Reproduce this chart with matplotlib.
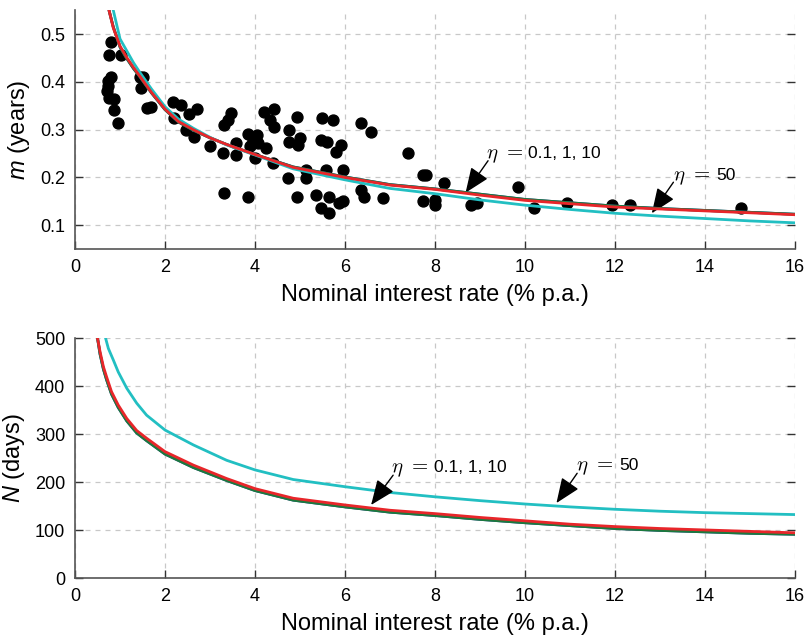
import matplotlib
matplotlib.use("Agg")
import matplotlib.pyplot as plt

plt.rcParams["font.family"] = ["Liberation Sans", "DejaVu Sans"]
plt.rcParams["mathtext.fontset"] = "custom"
plt.rcParams["mathtext.it"] = "Liberation Sans:italic"
plt.rcParams["mathtext.rm"] = "Liberation Sans"

# observed data (top panel scatter)
obs_rate = [0.80, 0.76, 1.02, 0.80, 0.74, 0.74, 0.70, 0.76, 0.87, 0.87, 0.95,
            1.44, 1.50, 1.47, 1.59, 1.69, 2.17, 2.36, 2.21, 2.54, 2.72, 2.47,
            2.65, 2.99, 3.28, 3.31, 3.31, 3.41, 3.47, 3.58, 3.58, 3.84, 3.84,
            3.89, 3.96, 4.05, 3.99, 4.06, 4.24, 4.21, 4.33, 4.43, 4.43, 4.39,
            4.73, 4.76, 4.76, 4.94, 4.94, 5.00, 4.96, 5.13, 5.13, 5.36, 5.47,
            5.65, 5.65, 5.50, 5.73, 5.47, 5.61, 5.80, 5.91, 5.58, 5.95, 5.87,
            5.95, 6.36, 6.57, 6.36, 6.42, 6.85, 7.39, 7.73, 7.81, 7.73, 8.19,
            8.00, 8.00, 8.81, 8.94, 9.85, 10.19, 10.93, 11.93, 12.33, 14.80]
obs_m = [0.483, 0.456, 0.456, 0.410, 0.402, 0.392, 0.381, 0.367, 0.365, 0.341,
         0.313, 0.410, 0.410, 0.388, 0.345, 0.347, 0.358, 0.351, 0.324, 0.333,
         0.344, 0.299, 0.285, 0.265, 0.251, 0.167, 0.310, 0.320, 0.334, 0.272,
         0.247, 0.160, 0.292, 0.265, 0.278, 0.289, 0.240, 0.272, 0.261, 0.336,
         0.320, 0.344, 0.306, 0.230, 0.199, 0.299, 0.275, 0.327, 0.160, 0.282,
         0.268, 0.216, 0.199, 0.164, 0.136, 0.126, 0.160, 0.324, 0.320, 0.278,
         0.275, 0.254, 0.268, 0.216, 0.216, 0.147, 0.150, 0.313, 0.296, 0.174,
         0.160, 0.157, 0.251, 0.206, 0.206, 0.150, 0.188, 0.153, 0.143, 0.143,
         0.147, 0.181, 0.136, 0.147, 0.143, 0.143, 0.136]

# model curves, top panel (m in years)
m_rate = [0.76, 0.85, 1.0, 1.15, 1.3, 1.44, 1.7, 2.0, 2.3, 2.63, 3.0, 3.37,
          4.0, 4.85, 6.0, 7.0, 8.0, 9.0, 10.0, 11.0, 12.0, 13.0, 14.0, 15.0, 16.0]
m_eta01 = [0.548, 0.515, 0.473, 0.449, 0.428, 0.411, 0.377, 0.342, 0.316, 0.299,
           0.283, 0.269, 0.248, 0.222, 0.201, 0.185, 0.176, 0.165, 0.154, 0.147,
           0.140, 0.135, 0.131, 0.127, 0.123]
m_eta1 = [0.548, 0.515, 0.473, 0.449, 0.428, 0.411, 0.377, 0.342, 0.316, 0.299,
          0.283, 0.269, 0.248, 0.222, 0.201, 0.185, 0.176, 0.165, 0.154, 0.147,
          0.140, 0.135, 0.131, 0.127, 0.123]
m_eta10 = [0.548, 0.513, 0.475, 0.451, 0.430, 0.412, 0.378, 0.343, 0.317, 0.300,
           0.283, 0.269, 0.248, 0.221, 0.200, 0.184, 0.175, 0.163, 0.152, 0.145,
           0.138, 0.134, 0.130, 0.126, 0.122]
m_rate50 = [0.85, 1.0, 1.15, 1.3, 1.44, 1.7, 2.0, 2.3, 2.63, 3.0, 3.37, 4.0,
            4.85, 6.0, 7.0, 8.0, 9.0, 10.0, 11.0, 12.0, 13.0, 14.0, 15.0, 16.0]
m_eta50 = [0.550, 0.490, 0.465, 0.440, 0.420, 0.385, 0.348, 0.322, 0.303, 0.284,
           0.268, 0.247, 0.218, 0.195, 0.177, 0.166, 0.153, 0.142, 0.133, 0.125,
           0.119, 0.114, 0.109, 0.105]

# model curves, bottom panel (N in days)
n_rate = [0.5, 0.556, 0.63, 0.7, 0.81, 0.96, 1.15, 1.37, 1.59, 2.0, 2.63, 3.37,
          4.0, 4.85, 6.0, 7.0, 8.0, 9.0, 10.0, 11.0, 12.0, 13.0, 14.0, 15.0, 16.0]
n_eta01 = [500, 467, 436, 414, 384, 356, 328, 303, 287, 259, 231, 204, 183,
           163, 149, 138, 131, 123, 116, 110, 104, 100, 97, 94, 92]
n_eta1 = [500, 467, 436, 414, 384, 356, 328, 303, 287, 259, 231, 204, 183,
          163, 149, 138, 131, 123, 116, 110, 104, 100, 97, 94, 92]
n_eta10 = [500, 472, 441, 420, 389, 361, 333, 308, 292, 264, 236, 208, 187,
           167, 153, 142, 135, 127, 120, 113, 108, 104, 101, 98, 95]
n_rate50 = [0.68, 0.74, 0.85, 0.96, 1.15, 1.37, 1.59, 2.0, 2.63, 3.37, 4.0,
            4.85, 6.0, 7.0, 8.0, 9.0, 10.0, 11.0, 12.0, 13.0, 14.0, 15.0, 16.0]
n_eta50 = [500, 479, 455, 430, 396, 365, 340, 309, 278, 246, 226, 206, 191,
           179, 170, 162, 155, 149, 144, 140, 137, 135, 133]

c_blue = "#2a3f9e"
c_green = "#1b7a3e"
c_red = "#e8262a"
c_cyan = "#22bfc2"


def style_axes(ax, yticks, ylim):
    ax.set_xlim(0, 16)
    ax.set_ylim(*ylim)
    ax.set_xticks(range(0, 17, 2))
    ax.set_yticks(yticks)
    ax.grid(True, linestyle=(0, (4, 4)), color="#c8c8c8", linewidth=0.9)
    ax.set_axisbelow(True)
    for s in ["top", "right"]:
        ax.spines[s].set_visible(False)
    for s in ["left", "bottom"]:
        ax.spines[s].set_color("#555555")
        ax.spines[s].set_linewidth(1.2)
    ax.tick_params(direction="in", length=6, width=1, colors="#333333",
                   labelsize=13, labelcolor="black", pad=7)
    ax.tick_params(axis="y", right=True)
    ax.set_xlabel("Nominal interest rate (% p.a.)", fontsize=17, labelpad=6)


def arrow_note(ax, values, tip, tail, at):
    ax.annotate("", xy=tip, xytext=tail,
                arrowprops=dict(arrowstyle="-|>,head_length=1.1,head_width=0.45",
                                color="black", lw=1.0, shrinkA=0, shrinkB=0,
                                mutation_scale=14))
    eta = ax.text(at[0], at[1], r"$\eta\ =$", fontsize=15,
                  math_fontfamily="cm", ha="left", va="baseline")
    ax.annotate(values, xy=(1.0, at[1]), xycoords=(eta, "data"),
                xytext=(4, 0), textcoords="offset points", fontsize=12.5,
                ha="left", va="baseline")


fig = plt.figure(figsize=(8.07, 6.42), dpi=100)
ax1 = fig.add_axes([0.093, 0.612, 0.892, 0.372])
ax2 = fig.add_axes([0.093, 0.099, 0.892, 0.374])

ax1.scatter(obs_rate, obs_m, s=62, color="black", zorder=3)
ax1.plot(m_rate, m_eta01, color=c_blue, lw=2, zorder=4)
ax1.plot(m_rate, m_eta1, color=c_green, lw=2, zorder=4)
ax1.plot(m_rate, m_eta10, color=c_red, lw=2, zorder=5)
ax1.plot(m_rate50, m_eta50, color=c_cyan, lw=2, zorder=4)
style_axes(ax1, [0.1, 0.2, 0.3, 0.4, 0.5], (0.05, 0.55))
ax1.set_ylabel("$m$ (years)", fontsize=17, labelpad=6)
arrow_note(ax1, "0.1, 1, 10", (8.68, 0.168), (9.18, 0.235), (9.13, 0.241))
arrow_note(ax1, "50", (12.82, 0.125), (13.3, 0.190), (13.3, 0.195))

ax2.plot(n_rate, n_eta01, color=c_blue, lw=2)
ax2.plot(n_rate, n_eta1, color=c_green, lw=2)
ax2.plot(n_rate, n_eta10, color=c_red, lw=2)
ax2.plot(n_rate50, n_eta50, color=c_cyan, lw=2)
style_axes(ax2, [0, 100, 200, 300, 400, 500], (0, 500))
ax2.set_ylabel("$N$ (days)", fontsize=17, labelpad=6)
arrow_note(ax2, "0.1, 1, 10", (6.58, 153), (7.07, 215), (7.03, 222))
arrow_note(ax2, "50", (10.7, 157), (11.16, 219), (11.14, 225))

fig.savefig("out.png", dpi=100)
